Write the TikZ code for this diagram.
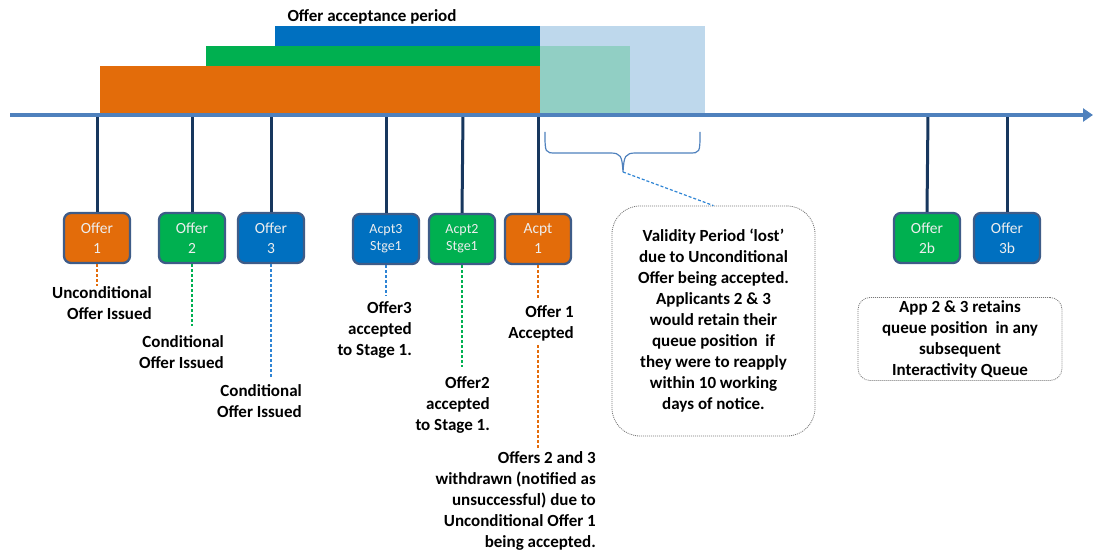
\documentclass[tikz,border=0pt]{standalone}
\usepackage{fontspec}
\setmainfont{Carlito}
\usetikzlibrary{arrows.meta}
\definecolor{axisblue}{RGB}{79,129,189}
\definecolor{tickblue}{RGB}{23,55,94}
\definecolor{ora}{RGB}{227,108,10}
\definecolor{grn}{RGB}{0,176,80}
\definecolor{blu}{RGB}{0,112,192}
\definecolor{dblu}{RGB}{46,132,212}
\definecolor{lblue}{RGB}{190,216,236}
\definecolor{lteal}{RGB}{145,207,196}
\definecolor{boxedge}{RGB}{62,92,136}
\definecolor{boxtext}{RGB}{238,238,238}
\definecolor{dotgray}{RGB}{120,120,120}
\tikzset{
  obox/.style={draw=boxedge, line width=2.3pt, rounded corners=7pt, minimum width=66pt, minimum height=50pt,
    inner sep=0pt, align=center, text=boxtext, font=\fontsize{15.5}{20}\selectfont},
  sbox/.style={obox, font=\fontsize{14}{17}\selectfont},
  ticks/.style={draw=tickblue, line width=3pt},
  lbl/.style={anchor=north east, inner sep=0pt, align=right, font=\fontsize{17}{21}\selectfont\bfseries},
  lead/.style={line width=1.3pt, dash pattern=on 3pt off 2pt},
  bubble/.style={draw=dotgray, line width=0.8pt, dash pattern=on 1pt off 1pt, align=center, inner sep=0pt,
    font=\fontsize{17}{21}\selectfont\bfseries}
}
\begin{document}
\begin{tikzpicture}[x=1pt,y=-1pt]
\useasboundingbox (0,0) rectangle (1093,553);
% bars
\fill[lblue] (540,26) rectangle (705,115);
\fill[lteal] (540,46) rectangle (630,115);
\fill[ora] (100,66) rectangle (540,115);
\fill[grn] (206,46) rectangle (540,66);
\fill[blu] (275,26) rectangle (540,46);
\node[font=\fontsize{17}{21}\selectfont\bfseries, inner sep=0pt] (title) at (372,17) {Offer acceptance period};
% axis coordinates
\coordinate (a1) at (97,115);
\coordinate (a2) at (192,115);
\coordinate (a3) at (271,115);
\coordinate (a4) at (386,115);
\coordinate (a5) at (463,115);
\coordinate (a6) at (538,115);
\coordinate (a7) at (928,115);
\coordinate (a8) at (1007,115);
\coordinate (axs) at (10,115);
\coordinate (axe) at (1093,115);
% boxes
\node[obox, fill=ora] (o1) at (97,238) {Offer\\1};
\node[obox, fill=grn] (o2) at (192,238) {Offer\\2};
\node[obox, fill=blu] (o3) at (271,238) {Offer\\3};
\node[sbox, fill=blu] (c3) at (386,239) {Acpt3\\Stge1};
\node[sbox, fill=grn] (c2) at (462,239) {Acpt2\\Stge1};
\node[obox, fill=ora] (c1) at (538,239) {Acpt\\1};
\node[obox, fill=grn] (o2b) at (927,238) {Offer\\2b};
\node[obox, fill=blu] (o3b) at (1007,238) {Offer\\3b};
% ticks
\foreach \a/\b in {a1/o1,a2/o2,a3/o3,a4/c3,a5/c2,a6/c1,a7/o2b,a8/o3b}
  \draw[ticks] (\a) -- (\b.north);
% axis
\draw[axisblue, line width=4.5pt, -{Triangle[length=10pt,width=13pt]}] (axs) -- (axe);
% labels
\node[lbl] (l1) at (152,286) {Unconditional\\Offer Issued};
\node[lbl] (l2) at (224,335) {Conditional\\Offer Issued};
\node[lbl] (l3) at (302,384) {Conditional\\Offer Issued};
\node[lbl] (m3) at (412,301) {Offer3\\accepted\\to Stage 1.};
\node[lbl] (m2) at (490,376) {Offer2\\accepted\\to Stage 1.};
\node[lbl] (m1) at (574,305) {Offer 1\\Accepted};
\node[lbl] (w1) at (596,451) {Offers 2 and 3\\withdrawn (notified as\\unsuccessful) due to\\Unconditional Offer 1\\being accepted.};
% leaders
\draw[lead, ora] (o1.south) -- (o1.south |- l1.north);
\draw[lead, grn] (o2.south) -- ([yshift=9pt]o2.south |- l2.north);
\draw[lead, dblu] (o3.south) -- ([yshift=6pt]o3.south |- l3.north);
\draw[lead, dblu] (c3.south) -- ([yshift=5pt]c3.south |- m3.north);
\draw[lead, grn] (c2.south) -- ([yshift=9pt]c2.south |- m2.north);
\draw[lead, ora] (c1.south) -- ([yshift=6pt]c1.south |- m1.north);
\draw[lead, ora] ([yshift=-4pt]c1.south |- m1.south) -- ([yshift=3pt]c1.south |- w1.north);
% brace
\coordinate (bt) at (623,172);
\draw[axisblue, line width=1.2pt] (545,132) .. controls (545,153) and (545,153) .. (556,153) -- (610,153)
  .. controls (621,153) and (622,156) .. (bt) .. controls (624,156) and (625,153) .. (636,153) -- (689,153)
  .. controls (700,153) and (700,153) .. (700,132);
% bubbles
\node[bubble, rounded corners=28pt, minimum width=203pt, minimum height=230pt] (vb) at (713.5,321)
  {Validity Period ‘lost’\\due to Unconditional\\Offer being accepted.\\Applicants 2 \& 3\\would retain their\\queue position\ \ if\\they were to reapply\\within 10 working\\days of notice.};
\node[bubble, rounded corners=12pt, minimum width=204pt, minimum height=83pt] (ab) at (960,339)
  {App 2 \& 3 retains\\queue position\ \ in any\\subsequent\\Interactivity Queue};
\draw[lead, dblu, line width=1.2pt] (bt) -- (vb.north);
\end{tikzpicture}
\end{document}
